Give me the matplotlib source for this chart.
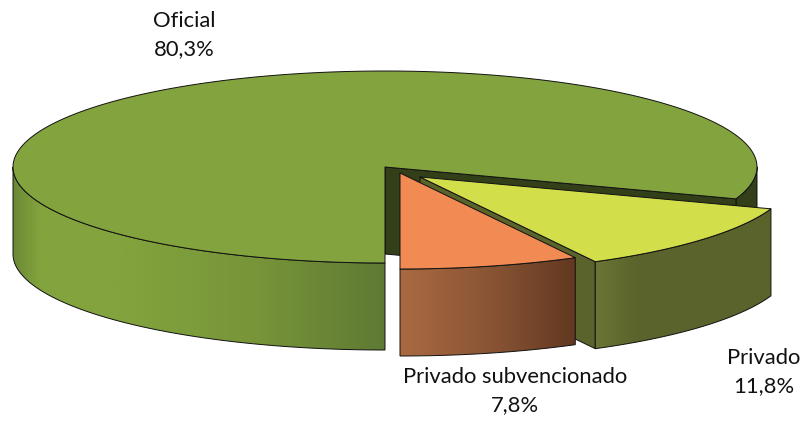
import numpy as np
from matplotlib import pyplot as plt
from matplotlib.colors import LinearSegmentedColormap
from matplotlib.patches import Polygon

# data, counter-clockwise starting from the front of the pie
labels = ["Privado subvencionado", "Privado", "Oficial"]
shares = [7.8, 11.8, 80.3]

top_colors = ["#f28b53", "#d2df4a", "#82a33d"]
inner_dark = "#333f18"
inner_olive = "#5a632b"
wall_orange = [(0, "#aa6a41"), (0.5, "#8a5535"), (1, "#623820")]
wall_yellow = [(0, "#6a7535"), (0.25, "#5a632b"), (1, "#5a632b")]
wall_green = [(0, "#6c8a36"), (0.07, "#82a33d"), (0.3, "#82a33d"), (0.65, "#789539"), (1, "#5f7a33")]

centers = [(400, 173), (420, 177), (385, 167)]
label_pos = [(515, 391), (764, 372), (184, 35)]
rx, ry, depth = 372, 96, 87
start = -90

fig = plt.figure(figsize=(8.04, 4.21), dpi=100)
ax = fig.add_axes([0, 0, 1, 1])

edges = start + np.concatenate([[0], np.cumsum(shares)]) / sum(shares) * 360
z = [1]


def rim(c, a0, a1):
    t = np.radians(np.linspace(a0, a1, 200))
    return np.column_stack([c[0] + rx * np.cos(t), c[1] - ry * np.sin(t)])


def flat(pts, color):
    z[0] += 1
    ax.add_patch(Polygon(pts, closed=True, fc=color, ec="#111111", lw=0.7,
                         joinstyle="round", zorder=z[0]))


def wall(c, a0, a1, colors):
    z[0] += 1
    up = rim(c, a0, a1)
    down = up[::-1] + [0, depth]
    pts = np.vstack([up, down])
    cmap = LinearSegmentedColormap.from_list("w", colors)
    im = ax.imshow(np.linspace(0, 1, 256).reshape(1, -1), cmap=cmap, aspect="auto", zorder=z[0],
                   extent=[pts[:, 0].min(), pts[:, 0].max(), pts[:, 1].max(), pts[:, 1].min()])
    edge = Polygon(pts, closed=True, fc="none", ec="#111111", lw=0.7, zorder=z[0] + 0.5)
    ax.add_patch(edge)
    im.set_clip_path(edge)


def side(c, a):
    p = rim(c, a, a)[0]
    return [c, p, p + [0, depth], (c[0], c[1] + depth)]


# oficial, back part
c = centers[2]
flat(np.vstack([rim(c, edges[2], 0), rim(c, edges[2], 0)[::-1] + [0, depth]]), inner_dark)
flat(side(c, edges[2]), inner_dark)
wall(c, 180, 270, wall_green)
flat(np.vstack([[c], rim(c, edges[2], edges[3])]), top_colors[2])

# privado
c = centers[1]
flat(side(c, edges[1]), inner_olive)
wall(c, edges[1], edges[2], wall_yellow)
flat(np.vstack([[c], rim(c, edges[1], edges[2])]), top_colors[1])

# privado subvencionado
c = centers[0]
wall(c, edges[0], edges[1], wall_orange)
flat(np.vstack([[c], rim(c, edges[0], edges[1])]), top_colors[0])

for name, val, pos in zip(labels, shares, label_pos):
    txt = name + "\n" + f"{val:.1f}%".replace(".", ",")
    ax.text(pos[0], pos[1], txt, ha="center", va="center", fontsize=15.8,
            family="Lato", color="#111111", linespacing=1.5, zorder=50)

ax.set_xlim(0, 804)
ax.set_ylim(421, 0)
ax.axis("off")

fig.savefig("out.png", dpi=100)
